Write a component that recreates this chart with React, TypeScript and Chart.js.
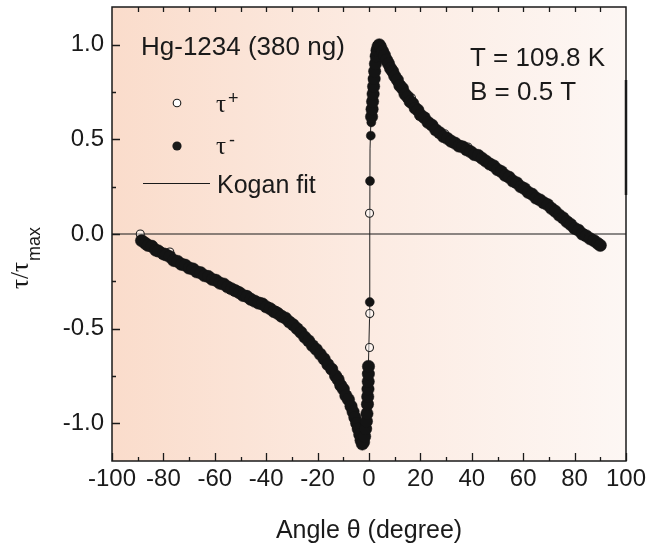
import React, { useEffect, useRef } from "react";
import { Chart, registerables } from "chart.js";

Chart.register(...registerables);

// ---------- data (angle θ in degrees, τ/τmax) ----------
const xTickValues = [-100, -80, -60, -40, -20, 0, 20, 40, 60, 80, 100];
const xMinorTickValues = [-90, -70, -50, -30, -10, 10, 30, 50, 70, 90];
const xTopTickValues = [-90, -80, -70, -60, -50, -40, -30, -20, -10, 0, 10, 20, 30, 40, 50, 60, 70, 80, 90];
const yTickValues = [-1.0, -0.5, 0.0, 0.5, 1.0];
const yMinorTickValues = [-0.75, -0.25, 0.25, 0.75];

// τ− (filled circles)
const tauMinusPoints: [number, number][] = [
  [-88.5, -0.035], [-87, -0.05], [-86, -0.06], [-84.5, -0.065], [-83, -0.085], [-82, -0.09],
  [-80, -0.105], [-79, -0.11], [-77.5, -0.12], [-76, -0.14], [-74.5, -0.145], [-73, -0.16],
  [-71.5, -0.165], [-70, -0.18], [-68.5, -0.185], [-67, -0.2], [-65.5, -0.205], [-64, -0.22],
  [-62.5, -0.225], [-61, -0.24], [-59.5, -0.245], [-58, -0.26], [-56.5, -0.265], [-55, -0.28],
  [-53.5, -0.29], [-52, -0.3], [-50.5, -0.31], [-49, -0.325], [-47.5, -0.33], [-46, -0.345],
  [-44.5, -0.355], [-43, -0.365], [-41.5, -0.37], [-40, -0.385], [-38.5, -0.395], [-37, -0.41],
  [-35.5, -0.42], [-34, -0.435], [-32.5, -0.445], [-31, -0.465], [-29.5, -0.48], [-28, -0.5],
  [-26.5, -0.52], [-25, -0.545], [-23.5, -0.565], [-22, -0.59], [-20.5, -0.61], [-19, -0.635],
  [-17.5, -0.66], [-16, -0.69], [-14.5, -0.715], [-13, -0.75], [-12, -0.77], [-11, -0.8],
  [-10, -0.82], [-9, -0.855], [-8, -0.875], [-7, -0.91], [-6.2, -0.94], [-5.5, -0.97],
  [-4.8, -1.0], [-4.2, -1.03], [-3.6, -1.06], [-3.1, -1.09], [-2.6, -1.11], [-2.1, -1.1],
  [-1.7, -1.07], [-1.3, -1.03], [-1.0, -0.99], [-0.8, -0.95], [-0.6, -0.9], [-0.5, -0.86],
  [-0.4, -0.82], [-0.3, -0.78], [-0.25, -0.74], [-0.2, -0.7], [0.3, -0.36],
  [0.4, 0.28], [0.7, 0.52], [0.9, 0.59], [1.0, 0.62], [1.2, 0.66], [1.4, 0.7], [1.6, 0.74],
  [1.8, 0.78], [2.0, 0.82], [2.2, 0.86], [2.5, 0.9], [2.8, 0.94], [3.1, 0.97], [3.5, 0.99],
  [4.0, 1.0], [4.6, 0.985], [5.3, 0.965], [6, 0.945], [6.8, 0.92], [7.6, 0.9], [8.4, 0.875],
  [9.2, 0.86], [10, 0.835], [11, 0.815], [12, 0.785], [13, 0.77], [14, 0.74], [15, 0.725],
  [16, 0.7], [17, 0.69], [18, 0.665], [19, 0.655], [20, 0.63], [21.5, 0.615], [23, 0.59],
  [24.5, 0.575], [26, 0.55], [27.5, 0.535], [29, 0.515], [30.5, 0.505], [32, 0.49], [33.5, 0.48],
  [35, 0.465], [36.5, 0.46], [38, 0.445], [39.5, 0.435], [41, 0.42], [42.5, 0.415], [44, 0.4],
  [45.5, 0.385], [47, 0.37], [48.5, 0.36], [50, 0.34], [51.5, 0.33], [53, 0.31], [54.5, 0.3],
  [56, 0.28], [57.5, 0.27], [59, 0.25], [60.5, 0.24], [62, 0.22], [63.5, 0.21], [65, 0.19],
  [66.5, 0.18], [68, 0.165], [69.5, 0.155], [71, 0.135], [72.5, 0.12], [74, 0.1], [75.5, 0.085],
  [77, 0.065], [78.5, 0.05], [80, 0.03], [81.5, 0.02], [83, 0.0], [84.5, -0.01], [86, -0.025],
  [87.5, -0.035], [89, -0.05], [90, -0.06],
];

// τ+ (open circles)
const tauPlusPoints: [number, number][] = [
  [-89, 0.0], [-87, -0.04], [-84, -0.06], [-81, -0.09], [-77.5, -0.095], [-75, -0.14],
  [-72, -0.155], [-69, -0.18], [-66, -0.2], [-63, -0.22], [-60, -0.235], [-57, -0.26],
  [-54, -0.28], [-51, -0.3], [-48, -0.32], [-45, -0.345], [-42, -0.36], [-39, -0.385],
  [-36, -0.405], [-33, -0.44], [-30, -0.47], [-27, -0.51], [-24, -0.56], [-21, -0.6],
  [-18, -0.645], [-15, -0.7], [-12, -0.77], [-9, -0.85], [-6, -0.94], [-4, -1.03],
  [-3, -1.09], [-1.5, -1.06], [-1, -0.98], [-0.6, -0.88], [0.2, -0.6], [0.3, -0.42],
  [0.2, 0.11], [1.0, 0.66], [1.1, 0.71], [1.3, 0.76], [1.6, 0.81], [2.2, 0.9], [3.3, 1.0],
  [5, 0.975], [7, 0.925], [9, 0.87], [11, 0.82], [13, 0.775], [16.5, 0.72], [18, 0.67],
  [21, 0.625], [24, 0.58], [27, 0.54], [29.5, 0.53], [33, 0.49], [36, 0.47], [38.5, 0.46],
  [42, 0.42], [45, 0.39], [48, 0.365], [51, 0.335], [54, 0.305], [57, 0.275], [60, 0.245],
  [63, 0.215], [66, 0.185], [69, 0.16], [72, 0.13], [75, 0.095], [78, 0.06], [81, 0.025],
  [84, -0.005], [87, -0.03], [89.5, -0.05],
];

// Kogan fit curve
const koganFitPoints: [number, number][] = [
  [-90, -0.03], [-80, -0.1], [-70, -0.175], [-60, -0.24], [-50, -0.315], [-40, -0.385],
  [-30, -0.475], [-25, -0.54], [-20, -0.615], [-15, -0.7], [-10, -0.82], [-7, -0.91],
  [-5, -0.99], [-3.5, -1.07], [-2.6, -1.1], [-2, -1.09], [-1.2, -1.0], [-0.5, -0.85],
  [0.2, -0.45], [0.3, 0.0], [0.4, 0.45], [1.2, 0.8], [2.2, 0.95], [3.5, 1.0], [5, 0.965],
  [8, 0.885], [12, 0.785], [16, 0.7], [20, 0.63], [25, 0.56], [30, 0.505], [40, 0.425],
  [50, 0.34], [60, 0.24], [70, 0.145], [80, 0.03], [90, -0.06],
];

const W = 646;
const H = 548;
const SANS = '"Liberation Sans", Arial, Helvetica, sans-serif';
const SERIF = '"Liberation Serif", "DejaVu Serif", serif';
const INK = "#1a1a1a";

const decorPlugin = {
  id: "decor",
  beforeDatasetsDraw(chart: any) {
    const { ctx, chartArea: a, scales } = chart;
    const y = scales.y;
    ctx.save();
    const g = ctx.createLinearGradient(a.left, 0, a.right, 0);
    g.addColorStop(0, "#fadccb");
    g.addColorStop(0.5, "#fcebe2");
    g.addColorStop(1, "#fdf7f4");
    ctx.fillStyle = g;
    ctx.fillRect(a.left, a.top, a.right - a.left, a.bottom - a.top);
    const y0 = y.getPixelForValue(0);
    ctx.strokeStyle = INK;
    ctx.lineWidth = 1.2;
    ctx.beginPath();
    ctx.moveTo(a.left, y0);
    ctx.lineTo(a.right, y0);
    ctx.stroke();
    ctx.restore();
  },
  afterDatasetsDraw(chart: any) {
    const { ctx, chartArea: a, scales } = chart;
    const x = scales.x;
    const y = scales.y;
    ctx.save();
    ctx.strokeStyle = INK;
    ctx.lineWidth = 1.3;
    ctx.beginPath();
    for (const v of xTickValues) {
      const px = Math.round(x.getPixelForValue(v)) + 0.5;
      ctx.moveTo(px, a.bottom);
      ctx.lineTo(px, a.bottom - 8);
    }
    for (const v of xMinorTickValues) {
      const px = Math.round(x.getPixelForValue(v)) + 0.5;
      ctx.moveTo(px, a.bottom);
      ctx.lineTo(px, a.bottom - 4);
    }
    for (const v of xTopTickValues) {
      const px = Math.round(x.getPixelForValue(v)) + 0.5;
      ctx.moveTo(px, a.top);
      ctx.lineTo(px, a.top + 5);
    }
    for (const v of yTickValues) {
      const py = Math.round(y.getPixelForValue(v)) + 0.5;
      ctx.moveTo(a.left, py);
      ctx.lineTo(a.left + 8, py);
    }
    for (const v of yMinorTickValues) {
      const py = Math.round(y.getPixelForValue(v)) + 0.5;
      ctx.moveTo(a.left, py);
      ctx.lineTo(a.left + 4, py);
    }
    ctx.stroke();
    ctx.lineWidth = 1.5;
    ctx.strokeRect(a.left, a.top, a.right - a.left, a.bottom - a.top);
    // slightly heavier segment on the right frame
    ctx.lineWidth = 2.5;
    ctx.beginPath();
    ctx.moveTo(a.right, 80);
    ctx.lineTo(a.right, 195);
    ctx.stroke();
    ctx.restore();
  },
  afterDraw(chart: any) {
    const { ctx, chartArea: a } = chart;
    ctx.save();
    ctx.fillStyle = INK;
    ctx.textBaseline = "alphabetic";
    ctx.textAlign = "left";
    ctx.font = `26px ${SANS}`;
    ctx.fillText("Hg-1234 (380 ng)", 141, 55);
    ctx.fillText("T = 109.8 K", 470, 66);
    ctx.fillText("B = 0.5 T", 470, 100);
    ctx.font = `25px ${SANS}`;
    ctx.fillText("Kogan fit", 217, 193);

    // legend symbols
    ctx.strokeStyle = INK;
    ctx.lineWidth = 1.1;
    ctx.beginPath();
    ctx.arc(177, 103, 3.8, 0, Math.PI * 2);
    ctx.fillStyle = "#ffffff";
    ctx.fill();
    ctx.stroke();
    ctx.beginPath();
    ctx.arc(177, 146, 4.6, 0, Math.PI * 2);
    ctx.fillStyle = INK;
    ctx.fill();
    ctx.beginPath();
    ctx.lineWidth = 1;
    ctx.moveTo(143, 183.5);
    ctx.lineTo(210, 183.5);
    ctx.stroke();

    ctx.fillStyle = INK;
    ctx.font = `25px ${SERIF}`;
    ctx.fillText("τ", 216, 112);
    ctx.fillText("τ", 216, 154);
    ctx.font = `18px ${SANS}`;
    ctx.fillText("+", 228, 104);
    ctx.fillText("-", 229, 146);

    // x title
    ctx.font = `25px ${SANS}`;
    ctx.textAlign = "center";
    ctx.fillText("Angle θ (degree)", (a.left + a.right) / 2, 538);

    // y title (rotated) τ/τ_max
    ctx.translate(28, 289);
    ctx.rotate(-Math.PI / 2);
    ctx.textAlign = "left";
    ctx.font = `25px ${SERIF}`;
    ctx.fillText("τ/τ", 0, 0);
    const w = ctx.measureText("τ/τ").width;
    ctx.font = `18px ${SANS}`;
    ctx.fillText("max", w + 1, 12);
    ctx.restore();
  },
};

export default function App() {
  const canvasRef = useRef<HTMLCanvasElement | null>(null);

  useEffect(() => {
    document.body.style.margin = "0";
    const canvas = canvasRef.current;
    if (!canvas) return;
    const isolated = (ctx: any) => {
      const r = ctx.raw;
      return r && r.x > -0.35 && r.x < 1.1 && Math.abs(r.y) < 0.6;
    };
    const chart = new Chart(canvas, {
      type: "scatter",
      data: {
        datasets: [
          {
            label: "τ−",
            data: tauMinusPoints.map(([t, v]) => ({ x: t, y: v })),
            pointRadius: (ctx: any) => (isolated(ctx) ? 4.5 : 6.2),
            pointBackgroundColor: "#141414",
            pointBorderColor: "#141414",
            pointBorderWidth: 0.5,
            showLine: false,
            order: 1,
          },
          {
            label: "τ+",
            data: tauPlusPoints.map(([t, v]) => ({ x: t, y: v })),
            pointRadius: 4,
            pointBackgroundColor: "rgba(255,255,255,0.5)",
            pointBorderColor: "#222",
            pointBorderWidth: 1.1,
            showLine: false,
            order: 2,
          },
          {
            type: "line" as const,
            label: "Kogan fit",
            data: koganFitPoints.map(([t, v]) => ({ x: t, y: v })),
            borderColor: "#222",
            borderWidth: 1,
            pointRadius: 0,
            tension: 0,
            showLine: true,
            fill: false,
            order: 3,
          },
        ] as any,
      },
      options: {
        animation: false,
        responsive: false,
        devicePixelRatio: 1,
        layout: { padding: { left: 0, right: 20, top: 7, bottom: 0 } },
        plugins: {
          legend: { display: false },
          tooltip: { enabled: false },
        },
        scales: {
          x: {
            type: "linear",
            min: -100,
            max: 100,
            grid: { display: false, drawTicks: false },
            border: { display: false },
            afterBuildTicks: (s: any) => {
              s.ticks = xTickValues.map((v) => ({ value: v }));
            },
            afterFit: (s: any) => {
              s.height = 87;
              s.paddingLeft = 0;
              s.paddingRight = 0;
              s.paddingTop = 0;
              s.paddingBottom = 0;
            },
            ticks: {
              padding: 4,
              color: INK,
              font: { family: SANS, size: 24 },
              maxRotation: 0,
              autoSkip: false,
              callback: (v: any) => String(v),
            },
          },
          y: {
            type: "linear",
            min: -1.2,
            max: 1.2,
            grid: { display: false, drawTicks: false },
            border: { display: false },
            afterBuildTicks: (s: any) => {
              s.ticks = yTickValues.map((v) => ({ value: v }));
            },
            afterFit: (s: any) => {
              s.width = 112;
              s.paddingLeft = 0;
              s.paddingRight = 0;
              s.paddingTop = 0;
              s.paddingBottom = 0;
            },
            ticks: {
              padding: 8,
              color: INK,
              font: { family: SANS, size: 24 },
              autoSkip: false,
              callback: (v: any) => Number(v).toFixed(1),
            },
          },
        },
      },
      plugins: [decorPlugin],
    });
    return () => chart.destroy();
  }, []);

  return (
    <div style={{ width: W, height: H, background: "#ffffff" }}>
      <canvas ref={canvasRef} width={W} height={H} style={{ display: "block" }} />
    </div>
  );
}
